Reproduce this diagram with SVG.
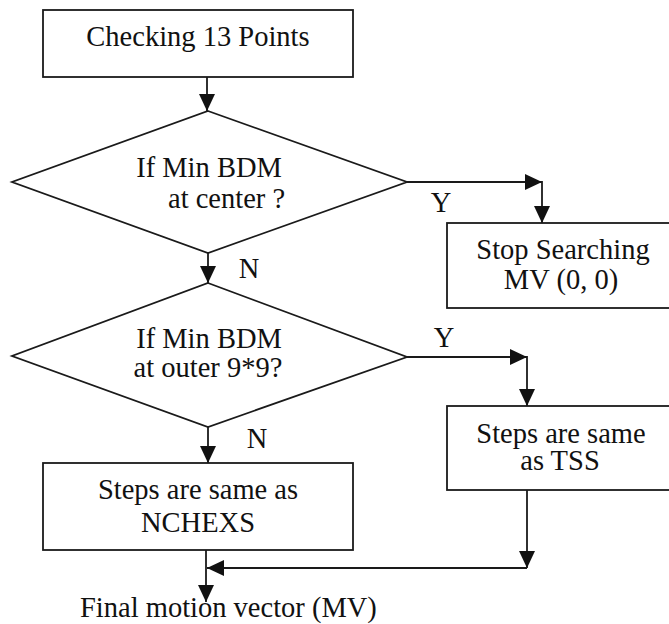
<svg xmlns="http://www.w3.org/2000/svg" width="669" height="624" viewBox="0 0 669 624">
<style>
.box{fill:#fff;stroke:#1a1a1a;stroke-width:1.8}
svg text{font-family:'Liberation Serif',serif !important;font-size:28.5px;fill:#111}
.c{text-anchor:middle}
.ln{fill:none;stroke:#1a1a1a;stroke-width:1.8}
</style>
<defs>
<marker id="ah" markerUnits="userSpaceOnUse" markerWidth="17" markerHeight="16" refX="17" refY="8" orient="auto">
<path d="M0,0 L17,8 L0,16 z" fill="#111"/>
</marker>
</defs>
<rect width="669" height="624" fill="#fff"/>
<g id="connectors">
<line class="ln" x1="207" y1="77" x2="207" y2="111" marker-end="url(#ah)"/>
<line class="ln" x1="407" y1="182" x2="542" y2="182" marker-end="url(#ah)"/>
<line class="ln" x1="542" y1="181" x2="542" y2="223" marker-end="url(#ah)"/>
<line class="ln" x1="208" y1="253" x2="208" y2="283" marker-end="url(#ah)"/>
<line class="ln" x1="407" y1="357" x2="527" y2="357" marker-end="url(#ah)"/>
<line class="ln" x1="527" y1="356" x2="527" y2="406" marker-end="url(#ah)"/>
<line class="ln" x1="208" y1="427" x2="208" y2="463" marker-end="url(#ah)"/>
<line class="ln" x1="206" y1="550" x2="206" y2="602" marker-end="url(#ah)"/>
<line class="ln" x1="527" y1="490" x2="527" y2="568" marker-end="url(#ah)"/>
<line class="ln" x1="527" y1="568" x2="207" y2="568" marker-end="url(#ah)"/>
<text class="c" x="441" y="212" font-family="Liberation Serif" style="font-family:'Liberation Serif',serif !important">Y</text>
<text class="c" x="249" y="278" font-family="Liberation Serif" style="font-family:'Liberation Serif',serif !important">N</text>
<text class="c" x="444" y="347" font-family="Liberation Serif" style="font-family:'Liberation Serif',serif !important">Y</text>
<text class="c" x="257" y="448" font-family="Liberation Serif" style="font-family:'Liberation Serif',serif !important">N</text>
</g>
<g id="start">
<rect class="box" x="43" y="10" width="310" height="67"/>
<text class="c" x="198" y="46" font-family="Liberation Serif" style="font-family:'Liberation Serif',serif !important">Checking 13 Points</text>
</g>
<g id="decision1">
<polygon class="box" points="208,111 407,182 208,253 12,182"/>
<text class="c" x="209" y="177" font-family="Liberation Serif" style="font-family:'Liberation Serif',serif !important">If Min BDM</text>
<text x="168" y="208" font-family="Liberation Serif" style="font-family:'Liberation Serif',serif !important">at center ?</text>
</g>
<g id="stop">
<rect class="box" x="447" y="223" width="235" height="85"/>
<text class="c" x="563" y="259" font-family="Liberation Serif" style="font-family:'Liberation Serif',serif !important">Stop Searching</text>
<text class="c" x="561" y="289" font-family="Liberation Serif" style="font-family:'Liberation Serif',serif !important">MV (0, 0)</text>
</g>
<g id="decision2">
<polygon class="box" points="208,283 407,357 208,427 12,356"/>
<text class="c" x="209" y="348" font-family="Liberation Serif" style="font-family:'Liberation Serif',serif !important">If Min BDM</text>
<text class="c" x="208" y="377" font-family="Liberation Serif" style="font-family:'Liberation Serif',serif !important">at outer 9*9?</text>
</g>
<g id="tss">
<rect class="box" x="447" y="406" width="235" height="84"/>
<text class="c" x="561" y="443" font-family="Liberation Serif" style="font-family:'Liberation Serif',serif !important">Steps are same</text>
<text class="c" x="560" y="470" font-family="Liberation Serif" style="font-family:'Liberation Serif',serif !important">as TSS</text>
</g>
<g id="nchexs">
<rect class="box" x="43" y="463" width="310" height="87"/>
<text class="c" x="198" y="499" font-family="Liberation Serif" style="font-family:'Liberation Serif',serif !important">Steps are same as</text>
<text class="c" x="198" y="532" font-family="Liberation Serif" style="font-family:'Liberation Serif',serif !important">NCHEXS</text>
</g>
<g id="final">
<text x="80" y="617" font-family="Liberation Serif" style="font-family:'Liberation Serif',serif !important">Final motion vector (MV)</text>
</g>
</svg>
